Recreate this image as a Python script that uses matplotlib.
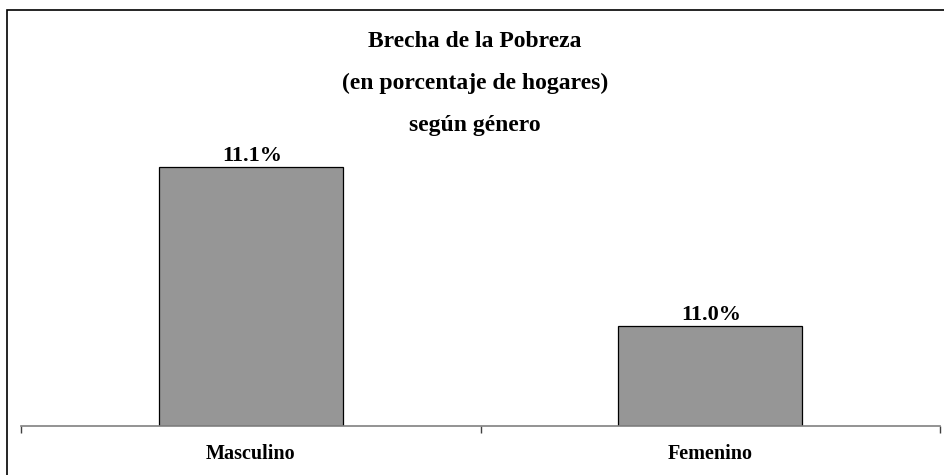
import matplotlib
matplotlib.use("Agg")
import matplotlib.pyplot as plt
from matplotlib.patches import Rectangle

categories = ["Masculino", "Femenino"]
values = [11.1, 11.0]
labels = ["11.1%", "11.0%"]
title_lines = ["Brecha de la Pobreza", "(en porcentaje de hogares)", "según género"]

W, H = 944, 475
fig = plt.figure(figsize=(W / 100, H / 100), dpi=100)
plt.rcParams["font.family"] = ["Liberation Serif", "DejaVu Serif"]

# axes box in pixels: x 21..940, baseline at y=426, top at y=60
x0, x1, yb, yt = 21, 940, 426, 60
ax = fig.add_axes([x0 / W, 1 - yb / H, (x1 - x0) / W, (yb - yt) / H])

bottom = 10.937
scale = (yb - 167) / (values[0] - bottom)
top = bottom + (yb - yt) / scale

xs = range(len(categories))
bars = ax.bar(xs, [v - bottom for v in values], bottom=bottom, width=0.4,
              color="#969696", edgecolor="black", linewidth=0.9)
ax.set_ylim(bottom, top)
ax.set_xlim(-0.5, len(categories) - 0.5)

for b, lab in zip(bars, labels):
    ax.annotate(lab, (b.get_x() + b.get_width() / 2, b.get_y() + b.get_height()),
                xytext=(1, 4.5), textcoords="offset points",
                ha="center", va="baseline", fontsize=16, fontweight="bold")

ax.set_yticks([])
ax.set_xticks([-0.5, 0.5, 1.5], minor=False)
ax.set_xticklabels([])
ax.set_xticks(list(xs), minor=True)
ax.set_xticklabels(categories, minor=True, fontsize=14.5, fontweight="bold")
ax.tick_params(axis="x", which="major", length=5, width=1, color="#404040", direction="out")
ax.tick_params(axis="x", which="minor", length=0, pad=13)
for s in ["top", "right", "left"]:
    ax.spines[s].set_visible(False)
ax.spines["bottom"].set_color("#808080")
ax.spines["bottom"].set_linewidth(1.2)

for i, line in enumerate(title_lines):
    fig.text(475 / W, 1 - (47 + 41.8 * i) / H, line, ha="center", va="baseline",
             fontsize=17, fontweight="bold")

fig.patches.append(Rectangle((7 / W, -0.05), 1.1, 1.05 - 10 / H, transform=fig.transFigure,
                             fill=False, edgecolor="black", linewidth=1.2))

fig.savefig("out.png", dpi=100)
